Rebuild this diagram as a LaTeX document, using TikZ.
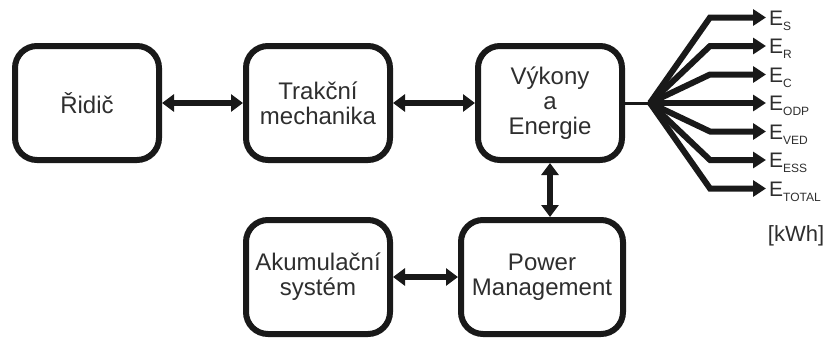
\documentclass[tikz,border=0pt]{standalone}
\usepackage{fontspec}
\setmainfont{Liberation Sans}
\usetikzlibrary{arrows.meta}
\newcommand{\EN}[1]{E\raisebox{-5pt}{\fontsize{12}{12}\selectfont #1}}

\begin{document}
\begin{tikzpicture}[x=1pt,y=-1pt,
   block/.style={draw=black!90,line width=6pt,rounded corners=22pt,minimum width=144pt,minimum height=114pt,align=center,text=black!82,font=\fontsize{24}{25}\selectfont},
   link/.style={black!90,line width=6pt,>={Triangle[length=12pt,width=17pt]},<->},
   feed/.style={black!90,line width=6pt,>={Triangle[length=13pt,width=16pt]},->},
   elabel/.style={anchor=west,inner sep=3pt,text=black!82,font=\fontsize{21}{21}\selectfont,text height=15pt,text depth=0pt}]
   \useasboundingbox (0,0) rectangle (827,340);
   % the five blocks
   \node (ridic) at (87,103) [block] {Řidič};
   \node (trakce) at (318,103) [block] {Trakční\\mechanika};
   \node (energie) at (550,103) [block] {Výkony\\a\\Energie};
   \node (akum) at (318,277) [block] {Akumulační\\systém};
   \node (power) at (542,277) [block,minimum width=162pt] {Power\\Management};
   \draw[link] (ridic) -- (trakce);
   \draw[link] (trakce) -- (energie);
   \draw[link] (akum) -- (power);
   \draw[link] (energie.south) -- (energie.south |- power.north);
   % outputs
   \coordinate (hub) at (650,103);
   \draw[black!90,line width=3pt] (energie) -- (hub);
   \coordinate (tS) at (766,17.5);
   \coordinate (tR) at (766,46);
   \coordinate (tC) at (766,74.5);
   \coordinate (tODP) at (766,103);
   \coordinate (tVED) at (766,131.5);
   \coordinate (tESS) at (766,160);
   \coordinate (tTOTAL) at (766,188.5);
   \draw[feed] (hub) -- ([xshift=-56pt]tS) -- (tS);
   \draw[feed] (hub) -- ([xshift=-56pt]tR) -- (tR);
   \draw[feed] (hub) -- ([xshift=-56pt]tC) -- (tC);
   \draw[feed] (hub) -- (tODP);
   \draw[feed] (hub) -- ([xshift=-56pt]tVED) -- (tVED);
   \draw[feed] (hub) -- ([xshift=-56pt]tESS) -- (tESS);
   \draw[feed] (hub) -- ([xshift=-56pt]tTOTAL) -- (tTOTAL);
   \node (lS) at (tS) [elabel] {\EN{S}};
   \node (lR) at (tR) [elabel] {\EN{R}};
   \node (lC) at (tC) [elabel] {\EN{C}};
   \node (lODP) at (tODP) [elabel] {\EN{ODP}};
   \node (lVED) at (tVED) [elabel] {\EN{VED}};
   \node (lESS) at (tESS) [elabel] {\EN{ESS}};
   \node (lTOTAL) at (tTOTAL) [elabel] {\EN{TOTAL}};
   \node (unit) at (796,236) [text=black!82,font=\fontsize{22}{22}\selectfont] {[kWh]};
\end{tikzpicture}
\end{document}
